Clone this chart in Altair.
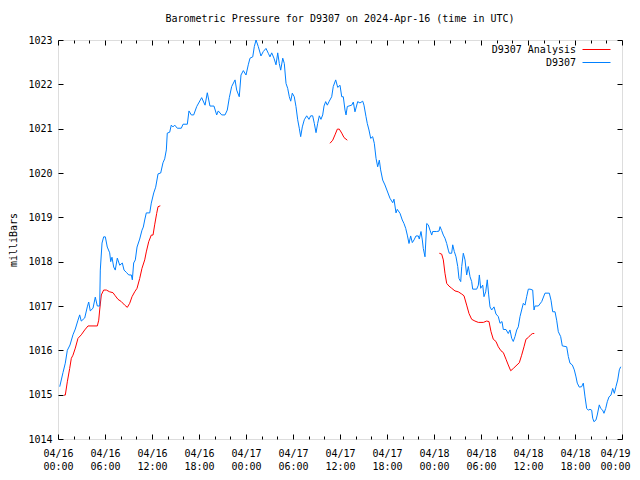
import altair as alt
import pandas as pd

# ---- data (hours since 2024-04-16 00:00 UTC, pressure in mb) ----
blue_hours = [0.22, 0.64, 0.93, 1.19, 1.53, 1.91, 2.21, 2.55, 2.77, 2.97, 3.41, 3.74, 3.92, 4.12, 4.47, 4.76, 5.02, 5.32,
              5.40, 5.62, 5.83, 6.04, 6.29, 6.60, 6.73, 6.89, 7.11, 7.31, 7.57, 7.88, 8.21, 8.43, 8.72, 9.03, 9.36, 9.49,
              9.66, 9.87, 10.09, 10.43, 10.72, 10.89, 11.07, 11.27, 11.71, 11.91, 12.22, 12.47, 12.77, 13.11, 13.40,
              13.62, 13.83, 13.95, 14.26, 14.46, 14.68, 14.90, 15.23, 15.74, 15.96, 16.51, 16.72, 17.02, 17.32, 17.71,
              18.34, 18.77, 19.06, 19.40, 19.91, 20.26, 20.46, 20.90, 21.32, 21.61, 21.87, 22.17, 22.60, 22.81, 23.14,
              23.36, 23.66, 24.00, 24.29, 24.51, 24.86, 25.06, 25.28, 25.57, 25.91, 26.21, 26.55, 26.85, 27.06, 27.28,
              27.57, 27.83, 28.05, 28.25, 28.43, 28.69, 28.89, 29.11, 29.32, 29.53, 29.71, 29.91, 30.16, 30.38, 30.60,
              30.80, 30.98, 31.19, 31.44, 31.75, 32.04, 32.26, 32.51, 32.72, 32.94, 33.15, 33.36, 33.57, 33.79, 33.96,
              34.17, 34.38, 34.63, 34.94, 35.14, 35.45, 35.71, 36.00, 36.22, 36.42, 36.64, 36.77, 36.93, 37.49, 37.70,
              37.91, 38.26, 38.55, 38.90, 39.06, 39.32, 39.48, 39.70, 39.92, 40.17, 40.38, 40.60, 40.81, 41.02, 41.19,
              41.45, 41.74, 42.38, 42.73, 42.89, 43.15, 43.31, 43.66, 43.95, 44.17, 44.39, 44.59, 44.81, 45.02, 45.23,
              45.45, 45.70, 46.00, 46.12, 46.34, 46.51, 46.63, 46.85, 47.07, 47.27, 47.49, 47.71, 47.83, 48.34, 48.64,
              48.77, 48.98, 49.19, 49.40, 49.62, 49.83, 49.95, 50.26, 50.39, 50.59, 50.81, 51.03, 51.19, 51.41, 51.54,
              51.74, 51.96, 52.17, 52.38, 52.60, 52.81, 52.94, 53.45, 53.66, 53.79, 53.96, 54.22, 54.38, 54.60, 54.80,
              54.98, 55.15, 55.36, 55.66, 55.91, 56.21, 56.43, 56.68, 56.85, 57.19, 57.48, 57.70, 57.92, 58.12, 58.34,
              58.56, 58.76, 58.98, 59.19, 59.40, 59.62, 59.83, 60.04, 60.26, 60.60, 60.77, 60.89, 61.32, 61.75, 62.17,
              62.72, 62.94, 63.15, 63.45, 63.66, 63.87, 64.17, 64.38, 64.94, 65.15, 65.36, 65.66, 65.91, 66.13, 66.29,
              66.55, 66.85, 67.06, 67.28, 67.49, 67.70, 67.91, 68.13, 68.26, 68.42, 68.68, 68.84, 69.10, 69.28, 69.53,
              69.70, 69.92, 70.12, 70.34, 70.59, 70.81, 71.02, 71.23, 71.45, 71.66, 71.84]
blue_mb = [1015.18, 1015.5, 1015.71, 1016.0, 1016.12, 1016.35, 1016.48, 1016.68, 1016.8, 1016.66, 1016.73, 1016.98,
           1017.09, 1016.89, 1016.95, 1017.2, 1017.0, 1017.0, 1017.81, 1018.42, 1018.56, 1018.56, 1018.33, 1018.2,
           1018.0, 1018.1, 1017.88, 1017.81, 1018.08, 1017.92, 1017.97, 1017.81, 1017.76, 1017.7, 1017.7, 1017.59,
           1017.97, 1018.04, 1018.33, 1018.51, 1018.71, 1018.78, 1018.94, 1019.1, 1019.1, 1019.32, 1019.55, 1019.68,
           1019.98, 1020.0, 1020.23, 1020.32, 1020.52, 1020.9, 1020.92, 1021.08, 1021.04, 1021.08, 1021.01, 1021.01,
           1021.1, 1021.1, 1021.4, 1021.31, 1021.31, 1021.5, 1021.7, 1021.53, 1021.81, 1021.51, 1021.51, 1021.31,
           1021.4, 1021.31, 1021.31, 1021.42, 1021.7, 1021.95, 1022.1, 1021.87, 1021.72, 1022.21, 1022.31, 1022.21,
           1022.44, 1022.59, 1022.62, 1022.85, 1023.0, 1022.85, 1022.64, 1022.74, 1022.81, 1022.7, 1022.62, 1022.71,
           1022.59, 1022.44, 1022.71, 1022.47, 1022.32, 1022.59, 1022.47, 1022.02, 1021.91, 1021.72, 1021.62, 1021.8,
           1021.72, 1021.5, 1021.2, 1021.01, 1020.82, 1021.04, 1021.2, 1021.29, 1021.21, 1021.29, 1021.29, 1021.12,
           1020.91, 1021.12, 1021.29, 1021.21, 1021.31, 1021.51, 1021.61, 1021.53, 1021.62, 1021.72, 1021.95, 1022.1,
           1021.93, 1021.98, 1021.72, 1021.72, 1021.42, 1021.31, 1021.5, 1021.53, 1021.6, 1021.38, 1021.61, 1021.58,
           1021.62, 1021.53, 1021.27, 1021.12, 1020.97, 1020.78, 1020.82, 1020.67, 1020.33, 1020.14, 1020.29, 1020.07,
           1019.84, 1019.73, 1019.43, 1019.33, 1019.41, 1019.1, 1019.18, 1019.09, 1018.94, 1018.86, 1018.75, 1018.6,
           1018.41, 1018.58, 1018.43, 1018.49, 1018.58, 1018.58, 1018.51, 1018.68, 1018.49, 1018.3, 1018.11, 1018.86,
           1018.83, 1018.71, 1018.6, 1018.68, 1018.68, 1018.69, 1018.79, 1018.7, 1018.6, 1018.53, 1018.41, 1018.26,
           1018.19, 1018.19, 1018.38, 1018.23, 1018.11, 1017.89, 1017.62, 1017.55, 1017.89, 1018.19, 1018.04, 1017.7,
           1017.89, 1017.66, 1017.55, 1017.38, 1017.38, 1017.47, 1017.7, 1017.4, 1017.47, 1017.21, 1017.32, 1017.59,
           1017.25, 1016.98, 1016.91, 1016.98, 1016.82, 1016.76, 1016.61, 1016.65, 1016.47, 1016.47, 1016.38, 1016.46,
           1016.27, 1016.2, 1016.31, 1016.46, 1016.53, 1016.76, 1016.91, 1017.06, 1017.02, 1017.21, 1017.38, 1017.38,
           1017.36, 1016.91, 1017.0, 1017.0, 1017.1, 1017.29, 1017.29, 1017.13, 1016.87, 1016.87, 1016.68, 1016.42,
           1016.31, 1016.1, 1016.08, 1015.86, 1015.71, 1015.67, 1015.56, 1015.4, 1015.26, 1015.17, 1015.18, 1015.26,
           1014.95, 1014.69, 1014.65, 1014.67, 1014.65, 1014.47, 1014.39, 1014.43, 1014.54, 1014.77, 1014.69, 1014.65,
           1014.58, 1014.69, 1014.84, 1014.95, 1014.99, 1015.14, 1015.03, 1015.18, 1015.33, 1015.56, 1015.63]

red1_hours = [0.77, 0.93, 1.19, 1.49, 1.70, 1.91, 2.21, 2.55, 2.97, 3.41, 3.83, 5.02, 5.20, 5.32, 5.53, 5.83, 6.17,
              6.60, 7.02, 7.31, 7.66, 8.08, 8.51, 8.85, 9.15, 9.45, 9.79, 10.09, 10.43, 10.72, 11.07, 11.27, 11.58,
              11.91, 12.13, 12.34, 12.60, 12.77, 13.06]
red1_mb = [1014.99, 1014.99, 1015.29, 1015.59, 1015.82, 1015.89, 1016.05, 1016.27, 1016.35, 1016.46, 1016.55,
           1016.55, 1016.68, 1016.91, 1017.25, 1017.36, 1017.36, 1017.32, 1017.3, 1017.23, 1017.15, 1017.1, 1017.02,
           1016.97, 1017.06, 1017.21, 1017.32, 1017.4, 1017.62, 1017.85, 1018.04, 1018.22, 1018.45, 1018.6, 1018.6,
           1018.83, 1019.09, 1019.24, 1019.26]
red2_hours = [34.72, 35.07, 35.36, 35.66, 35.91, 36.22, 36.51, 36.93]
red2_mb = [1020.67, 1020.74, 1020.86, 1020.99, 1020.99, 1020.9, 1020.8, 1020.74]
red3_hours = [48.68, 48.98, 49.19, 49.40, 49.62, 49.91, 50.26, 50.68, 51.10, 51.54, 51.83, 52.17, 52.47, 52.81,
              53.23, 53.66, 54.30, 54.72, 55.02, 55.28, 55.57, 55.91, 56.21, 56.55, 56.85, 57.19, 57.48, 57.79,
              58.12, 58.47, 58.89, 59.19, 59.49, 59.74, 60.04, 60.34, 60.60, 60.80]
red3_mb = [1018.19, 1018.17, 1018.04, 1017.74, 1017.51, 1017.45, 1017.4, 1017.34, 1017.32, 1017.27, 1017.23,
           1017.02, 1016.83, 1016.7, 1016.66, 1016.63, 1016.63, 1016.66, 1016.65, 1016.42, 1016.25, 1016.2, 1016.08,
           1015.99, 1015.95, 1015.8, 1015.67, 1015.54, 1015.59, 1015.65, 1015.72, 1015.89, 1016.08, 1016.25, 1016.29,
           1016.35, 1016.38, 1016.38]

series_names = ["D9307 Analysis", "D9307"]
series_colors = ["#ff0000", "#0080ff"]
x_domain = [0, 72]
y_domain = [1014, 1023]
title_text = "Barometric Pressure for D9307 on 2024-Apr-16 (time in UTC)"
y_title = "milliBars"

rows = []
for h, v in zip(red1_hours, red1_mb):
    rows.append({"hour": h, "mb": v, "series": "D9307 Analysis", "seg": "r1"})
for h, v in zip(red2_hours, red2_mb):
    rows.append({"hour": h, "mb": v, "series": "D9307 Analysis", "seg": "r2"})
for h, v in zip(red3_hours, red3_mb):
    rows.append({"hour": h, "mb": v, "series": "D9307 Analysis", "seg": "r3"})
for h, v in zip(blue_hours, blue_mb):
    rows.append({"hour": h, "mb": v, "series": "D9307", "seg": "b"})
df = pd.DataFrame(rows)

W, H = 564, 399
FONT = "DejaVu Sans Mono"

xs = alt.Scale(domain=x_domain, nice=False, zero=False)
ys = alt.Scale(domain=y_domain, nice=False, zero=False)
x_label_vals = list(range(0, 73, 6))
x_tick_vals = list(range(0, 73, 2))
y_vals = list(range(1014, 1024))
xtick_size = {"condition": {"test": "datum.value % 6 === 0", "value": 5}, "value": 3}
last_label_shift = {"condition": {"test": "datum.value === 72", "value": -7}, "value": 0}

label_expr = ("['04/' + (16 + floor(datum.value / 24)), "
              "(datum.value % 24 < 10 ? '0' : '') + (datum.value % 24) + ':00']")

lines = alt.Chart(df).mark_line(strokeWidth=1).encode(
    x=alt.X("hour:Q", scale=xs, axis=alt.Axis(
        values=x_label_vals, labelExpr=label_expr, ticks=False, domain=False, grid=False,
        labelFont=FONT, labelFontSize=10, labelColor="black", labelPadding=9, labelLineHeight=13.5,
        labelOffset=last_label_shift,
        labelFlush=False, labelOverlap=False, labelBound=False, title=None)),
    y=alt.Y("mb:Q", scale=ys, axis=alt.Axis(
        values=y_vals, format="d", ticks=False, domain=False, grid=False,
        labelFont=FONT, labelFontSize=10, labelColor="black", labelPadding=6,
        title=y_title, titleFont=FONT, titleFontSize=10, titleFontWeight="normal",
        titleColor="black", titlePadding=9)),
    color=alt.Color("series:N", scale=alt.Scale(domain=series_names, range=series_colors),
                    legend=alt.Legend(orient="none", legendX=531, legendY=2, title=None,
                                      labelFont=FONT, labelFontSize=10, labelColor="black",
                                      symbolType="M-2,0L2,0", symbolSize=196, symbolStrokeWidth=1,
                                      labelAlign="right", labelOffset={"expr": "-28"},
                                      rowPadding=0, padding=0)),
    detail="seg:N",
)

inner1 = alt.Chart(df).mark_point(opacity=0).encode(
    x=alt.X("hour:Q", scale=xs, axis=alt.Axis(
        orient="top", offset=-H, values=x_tick_vals, labels=False, domain=False, grid=False,
        tickSize=xtick_size, tickColor="black", title=None)),
    y=alt.Y("mb:Q", scale=ys, axis=alt.Axis(
        orient="right", offset=-W, values=y_vals, labels=False, domain=False, grid=False,
        tickSize=5, tickColor="black", title=None)),
)

inner2 = alt.Chart(df).mark_point(opacity=0).encode(
    x=alt.X("hour:Q", scale=xs, axis=alt.Axis(
        orient="bottom", offset=-H, values=x_tick_vals, labels=False, domain=False, grid=False,
        tickSize=xtick_size, tickColor="black", title=None)),
    y=alt.Y("mb:Q", scale=ys, axis=alt.Axis(
        orient="left", offset=-W, values=y_vals, labels=False, domain=False, grid=False,
        tickSize=5, tickColor="black", title=None)),
)

chart = alt.layer(lines, inner1, inner2).resolve_axis(
    x="independent", y="independent"
).properties(
    width=W, height=H,
    title=alt.TitleParams(title_text, font=FONT, fontSize=10, fontWeight="normal", color="black",
                          anchor="middle", baseline="alphabetic", offset=18, dy=15),
    autosize=alt.AutoSizeParams(type="none"),
    padding={"left": 50, "top": 32, "right": 10, "bottom": 33},
).configure_view(stroke="black", strokeWidth=1).configure(background="white")

chart.save("out.html", embed_options={"renderer": "svg", "actions": False})
